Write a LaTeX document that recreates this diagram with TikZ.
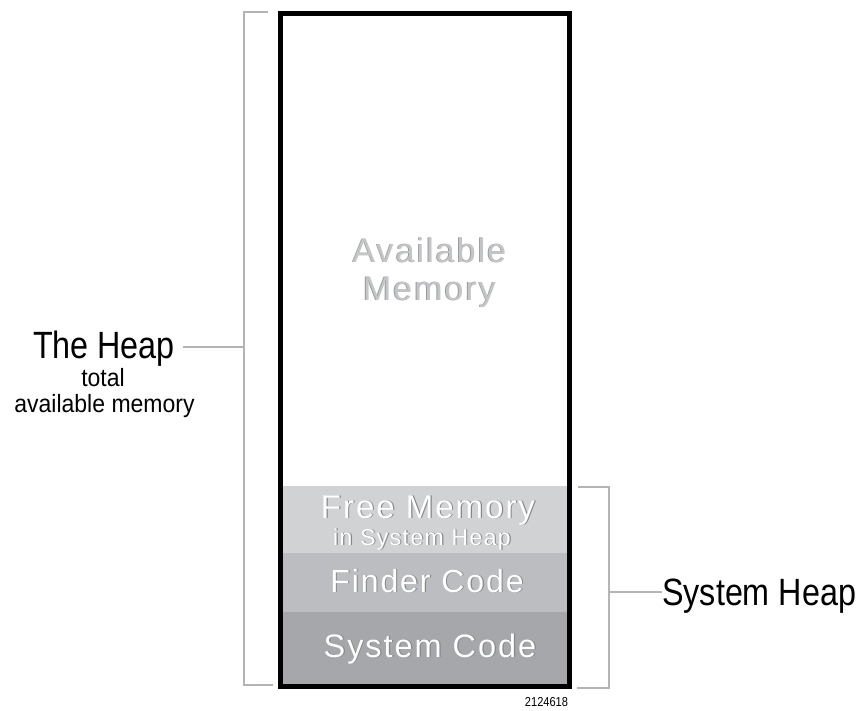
\documentclass[tikz,border=0pt]{standalone}
\usepackage{fontspec}
\setmainfont{Liberation Sans}
\newfontfamily\lblfont{Liberation Sans}[FakeStretch=0.85]
\newfontfamily\sublblfont{Liberation Sans}[FakeStretch=0.92]
\newfontfamily\memfont{Liberation Sans}[LetterSpace=6]
\usetikzlibrary{positioning}

\definecolor{bandA}{HTML}{D1D2D4}
\definecolor{bandB}{HTML}{BCBDC0}
\definecolor{bandC}{HTML}{A6A7AA}
\definecolor{brkgray}{HTML}{B3B4B6}
\definecolor{availtxt}{HTML}{C4C5C7}
\definecolor{availshd}{HTML}{9A9B9E}
\definecolor{bandshd}{HTML}{86878A}

% text with a small drop shadow: #1 shadow colour, #2 x shift, #3 text
\newcommand{\shd}[3]{\makebox[0pt][l]{\hspace*{#2}\raisebox{-0.9pt}{\color{#1}#3}}#3}

\begin{document}
\begin{tikzpicture}[x=1pt, y=-1pt,
  band/.style={rectangle, inner sep=0pt, outer sep=0pt, minimum width=289pt},
  memtxt/.style={text=white, align=center, inner sep=0pt},
  brk/.style={draw=brkgray, line width=1.8pt},
  lbl/.style={inner sep=0pt, font=\lblfont}]
\useasboundingbox (0,0) rectangle (861,711);

% memory bands
\node[band, fill=bandA, minimum height=67pt] (free) at (425,519.5) {};
\node[band, fill=bandB, minimum height=59pt] (finder) at (425,582.5) {};
\node[band, fill=bandC, minimum height=74pt] (syscode) at (425,649) {};
\node[band, draw=black, line width=5pt, minimum height=672.5pt] (heap) at (425,349.75) {};

\node[memtxt, text=availtxt, font=\memfont\fontsize{34}{38}\selectfont, anchor=base] (avail) at (429.5,300)
  {\shd{availshd}{-0.9pt}{Available}\\\shd{availshd}{-0.9pt}{Memory}};
\node[memtxt, font=\memfont\fontsize{33}{33}\selectfont, anchor=base] (freetxt) at (428,518)
  {\shd{bandshd}{1.1pt}{Free Memory}};
\node[memtxt, font=\memfont\fontsize{23}{23}\selectfont, anchor=base] (freesub) at (422,545)
  {\shd{bandshd}{1.1pt}{in System Heap}};
\node[memtxt, font=\memfont\fontsize{32}{32}\selectfont, anchor=base] (findertxt) at (427,592)
  {\shd{bandshd}{1.1pt}{Finder Code}};
\node[memtxt, font=\memfont\fontsize{32.5}{33}\selectfont, anchor=base] (systxt) at (430,657)
  {\shd{bandshd}{1.1pt}{System Code}};

% left bracket: the whole heap
\coordinate (heapTop) at (268,12);
\coordinate (heapMid) at (244,347);
\coordinate (heapBot) at (273,685);
\draw[brk] (heapTop) -| (heapMid) |- (heapBot);
\node[lbl, anchor=base, font=\lblfont\fontsize{38}{38}\selectfont] (heaplbl) at (104,358) {The Heap};
\node[lbl, anchor=base, font=\sublblfont\fontsize{25}{25}\selectfont] (heapsub) at (103,386) {total};
\node[lbl, anchor=base, font=\sublblfont\fontsize{25}{25}\selectfont] (heapsub2) at (104.5,412) {available memory};
\draw[brk] (heaplbl.east |- heapMid) ++(8,0) -- (heapMid);

% right bracket: system heap
\coordinate (sysTop) at (578,487);
\coordinate (sysMid) at (609,592);
\coordinate (sysBot) at (577,688);
\draw[brk] (sysTop) -| (sysMid) |- (sysBot);
\node[lbl, anchor=west, font=\lblfont\fontsize{38}{38}\selectfont] (syslbl) at (662,596) {System Heap};
\draw[brk] (sysMid) -- (syslbl.west |- sysMid) -- ++(-10,0);

\node[lbl, anchor=base, font=\lblfont\fontsize{13}{13}\selectfont] (figno) at (546.5,706) {2124618};
\end{tikzpicture}
\end{document}
